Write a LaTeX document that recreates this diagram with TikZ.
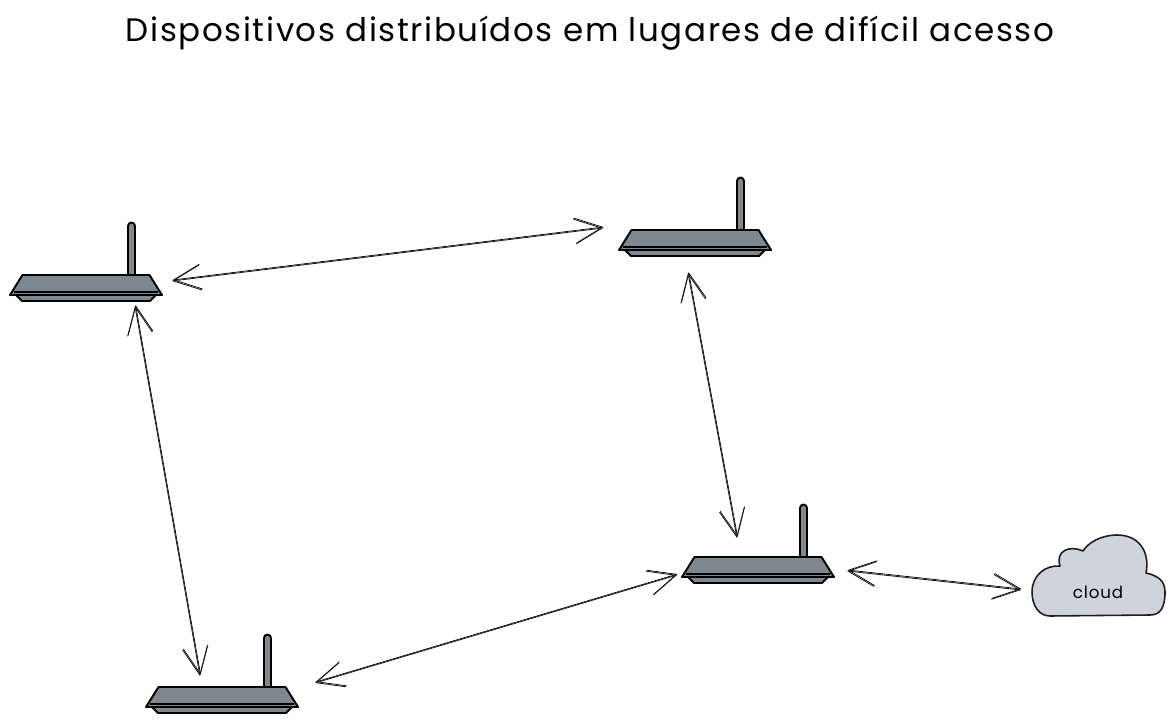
\documentclass[tikz,border=0pt]{standalone}
\usepackage{fontspec}
\setmainfont{Poppins}[LetterSpace=5]
\definecolor{slategrey}{RGB}{125,136,145}
\definecolor{cloudgrey}{RGB}{206,212,218}
\definecolor{inkline}{RGB}{30,30,30}
\usetikzlibrary{arrows.meta,positioning}

\begin{document}
\begin{tikzpicture}[
  routerbox/.style={minimum width=3.04cm,minimum height=0.54cm,inner sep=0,outer sep=0},
  cloudbox/.style={minimum width=2.68cm,minimum height=1.6cm,inner sep=0,outer sep=0},
  body/.style={draw=black,fill=slategrey,line width=1.1pt,line join=round},
  link/.style={draw=inkline,line width=0.5pt,
    {Straight Barb[length=0.55cm,width=0.5cm,line width=0.5pt]}-{Straight Barb[length=0.55cm,width=0.5cm,line width=0.5pt]},
    preaction={draw,transform canvas={shift={(0.012,0.02)}}}},
  router/.pic={
    \draw[body,line cap=round] (0.84,0.27) -- (0.84,1.25) arc[start angle=180,end angle=0,radius=0.07] -- (0.98,0.27);
    \draw[body] (-1.40,-0.13) -- (-1.28,-0.25) -- (1.28,-0.25) -- (1.40,-0.13) -- cycle;
    \draw[body] (-1.27,0.27) -- (1.27,0.27) -- (1.52,-0.13) -- (-1.52,-0.13) -- cycle;
    \draw[black,line width=0.7pt] (-1.44,-0.07) -- (1.44,-0.07);
    \draw[black,line width=1.1pt] (-0.22,-0.07) -- (0.22,-0.07);
  }
]
  \useasboundingbox (0,0) rectangle (23.48,14.46);
  % Title
  \node[font=\fontsize{18.5}{22}\selectfont] (title) at (11.8,13.8) {Dispositivos distribuídos em lugares de difícil acesso};
  % Routers
  \node[routerbox] (r1) at (1.72,8.69) {};
  \node[routerbox] (r2) at (13.9,9.59) {};
  \node[routerbox] (r3) at (15.16,3.05) {};
  \node[routerbox] (r4) at (4.44,0.45) {};
  \pic at (r1) {router};
  \pic at (r2) {router};
  \pic at (r3) {router};
  \pic at (r4) {router};
  % Cloud
  \draw[draw=inkline,fill=cloudgrey,line width=0.9pt,line join=round]
    (21.0,2.14) .. controls (20.78,2.14) and (20.64,2.35) .. (20.64,2.62)
    .. controls (20.64,2.95) and (20.9,3.16) .. (21.2,3.14)
    .. controls (21.1,3.45) and (21.4,3.56) .. (21.66,3.44)
    .. controls (21.85,3.72) and (22.2,3.76) .. (22.34,3.76)
    .. controls (22.8,3.76) and (23.0,3.4) .. (22.92,3.0)
    .. controls (23.15,2.95) and (23.3,2.85) .. (23.3,2.62)
    .. controls (23.3,2.3) and (23.2,2.16) .. (23.0,2.16)
    -- cycle;
  \node[cloudbox] (cloud) at (21.96,2.94) {};
  \node[font=\fontsize{9.5}{12}\selectfont] (cloudtext) at (21.96,2.62) {cloud};
  % Connectors
  \draw[link] ([shift={(0.2,0.15)}]r1.east) -- ([shift={(-0.32,0.31)}]r2.west);
  \draw[link] ([shift={(0.98,-0.08)}]r1.south) -- ([shift={(-0.44,0.22)}]r4.north);
  \draw[link] ([shift={(-0.14,-0.32)}]r2.south) -- ([shift={(-0.42,0.38)}]r3.north);
  \draw[link] ([shift={(0.34,0.35)}]r4.east) -- ([shift={(-0.1,-0.09)}]r3.west);
  \draw[link] ([shift={(0.26,-0.01)}]r3.east) -- ([shift={(-0.2,-0.28)}]cloud.west);
\end{tikzpicture}
\end{document}
